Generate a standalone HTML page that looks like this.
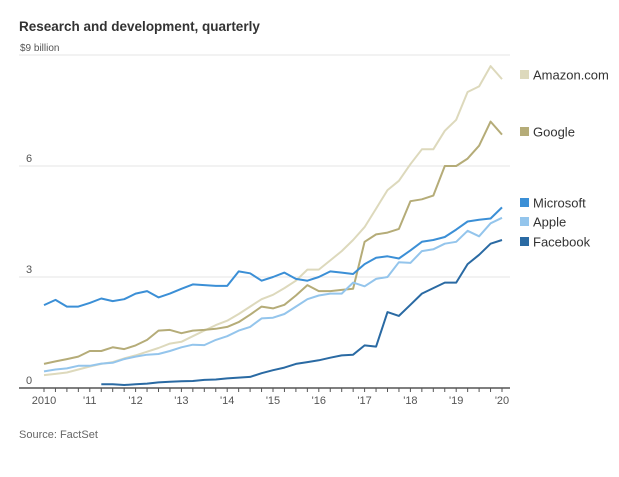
<!DOCTYPE html>
<html><head><meta charset="utf-8"><style>
body{margin:0;background:#fff;width:619px;height:472px;overflow:hidden;font-family:"Liberation Sans",sans-serif}
svg text{font-family:"Liberation Sans",sans-serif}
</style></head><body>
<svg width="619" height="472" id="chart">
<text x="19" y="31" font-size="13.5" font-weight="bold" fill="#333">Research and development, quarterly</text>
<text x="19" y="438" font-size="11" fill="#666">Source: FactSet</text>
<g id="grid"></g><g id="lines"></g><g id="axis"></g><g id="legend"></g>
</svg>
<script>
const yTicks=[0,3,6,9];
const yTickLabels=["0","3","6","$9 billion"];
const xYears=["2010","'11","'12","'13","'14","'15","'16","'17","'18","'19","'20"];
const seriesNames=["Amazon.com","Google","Microsoft","Apple","Facebook"];
const amazon=[0.35,0.38,0.42,0.5,0.58,0.65,0.7,0.8,0.88,0.98,1.08,1.2,1.25,1.4,1.55,1.7,1.82,2.0,2.2,2.4,2.52,2.7,2.9,3.2,3.2,3.45,3.7,4.0,4.35,4.85,5.35,5.6,6.05,6.45,6.45,6.95,7.25,8.0,8.15,8.7,8.35];
const google=[0.65,0.72,0.78,0.85,1.0,1.0,1.1,1.05,1.15,1.3,1.55,1.57,1.48,1.55,1.57,1.6,1.65,1.78,1.98,2.2,2.15,2.25,2.5,2.78,2.62,2.62,2.65,2.68,3.95,4.15,4.2,4.3,5.05,5.1,5.2,6.0,6.0,6.2,6.55,7.2,6.85];
const microsoft=[2.24,2.38,2.2,2.2,2.3,2.42,2.35,2.4,2.55,2.62,2.45,2.55,2.68,2.8,2.78,2.76,2.76,3.15,3.1,2.9,3.0,3.12,2.95,2.9,3.0,3.15,3.12,3.08,3.35,3.52,3.56,3.5,3.72,3.95,4.0,4.08,4.28,4.5,4.55,4.58,4.88];
const apple=[0.45,0.5,0.53,0.6,0.6,0.66,0.68,0.78,0.85,0.9,0.92,1.0,1.1,1.17,1.16,1.3,1.4,1.55,1.65,1.88,1.9,2.0,2.2,2.4,2.5,2.55,2.55,2.85,2.75,2.95,3.0,3.4,3.38,3.7,3.75,3.9,3.95,4.25,4.1,4.45,4.6];
const facebookStart=5;
const facebook=[0.1,0.1,0.08,0.1,0.12,0.15,0.17,0.18,0.19,0.22,0.23,0.26,0.28,0.3,0.4,0.48,0.55,0.65,0.7,0.75,0.82,0.88,0.9,1.15,1.12,2.05,1.95,2.25,2.55,2.7,2.85,2.85,3.35,3.6,3.9,4.0];
const legendY=[75,132,203,222,242];

const NS="http://www.w3.org/2000/svg";
const X0=44,X1=502,Y0=388,PX=37;
const xq=i=>X0+i*(X1-X0)/40;
const y=v=>Y0-v*PX;
function mk(t,a,p){const e=document.createElementNS(NS,t);for(const k in a)e.setAttribute(k,a[k]);p.appendChild(e);return e;}
const grid=document.getElementById('grid'),axis=document.getElementById('axis'),lines=document.getElementById('lines'),legend=document.getElementById('legend');
yTicks.forEach((v,i)=>{
 if(v>0){const l=mk('line',{x1:19,x2:510,y1:y(v),y2:y(v),stroke:'#e6e6e6','stroke-width':1},grid);
 
 }
 const t=mk('text',{x:v===9?20:26,y:y(v)-4,'font-size':v===9?10:11,fill:'#555'},grid);t.textContent=yTickLabels[i];
 
 
});
const ax=mk('line',{x1:19,x2:510,y1:Y0,y2:Y0,stroke:'#555','stroke-width':1.5},axis);


for(let i=0;i<=40;i++){const tk=mk('line',{x1:xq(i),x2:xq(i),y1:Y0,y2:Y0+4,stroke:'#555','stroke-width':1},axis);
 
 }
xYears.forEach((s,i)=>{const t=mk('text',{x:xq(i*4),y:Y0+16,'font-size':11,fill:'#555','text-anchor':'middle'},axis);t.textContent=s;
 
 });
const colors=['#ddd9bc','#b5ac78','#3b8fd6','#94c5ec','#2a6aa3'];
const data=[[amazon,0],[google,0],[microsoft,0],[apple,0],[facebook,facebookStart]];
const order=[0,1,3,2,4];
order.forEach(k=>{const [arr,s]=data[k];
 const d=arr.map((v,i)=>(i?'L':'M')+xq(i+s).toFixed(1)+','+y(v).toFixed(1)).join('');
 const p=mk('path',{d:d,fill:'none',stroke:colors[k],'stroke-width':2,'stroke-linejoin':'round'},lines);
 
 });
seriesNames.forEach((n,k)=>{
 const r=mk('rect',{x:520,y:legendY[k]-5,width:9,height:9,fill:colors[k]},legend);
 
 
 const t=mk('text',{x:533,y:legendY[k]+4.5,'font-size':13,fill:'#333'},legend);t.textContent=n;
 
 
});
</script>
</body></html>
